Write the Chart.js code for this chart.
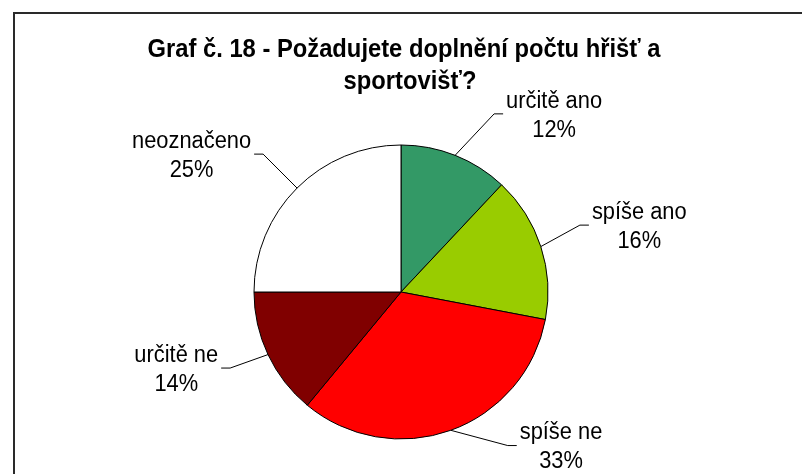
<!DOCTYPE html>
<html>
<head>
<meta charset="utf-8">
<script src="https://cdn.jsdelivr.net/npm/chart.js@4.4.1/dist/chart.umd.min.js"></script>
<style>
html,body{margin:0;padding:0;background:#fff;}
#wrap{position:relative;width:802px;height:474px;}
</style>
</head>
<body>
<div id="wrap"><canvas id="c" width="802" height="474"></canvas></div>
<script>
const titleLines = ["Graf č. 18 - Požadujete doplnění počtu hřišť a", "sportovišť?"];
const categories = ["určitě ano", "spíše ano", "spíše ne", "určitě ne", "neoznačeno"];
const values = [12, 16, 33, 14, 25];
const colors = ["#339966", "#99CC00", "#FF0000", "#800000", "#FFFFFF"];

// label leader styling (angle nudge in degrees, radial extension in px)
const leaderNudge = [6, -2.5, -15, 1.2, 0];
const leaderExt = [54, 44, 40, 40, 48];

const FONT = '"Liberation Sans", Arial, sans-serif';

function drawText(ctx, text, x, y, sx) {
  ctx.save();
  ctx.translate(x, y);
  ctx.scale(sx, 1);
  ctx.fillText(text, 0, 0);
  ctx.restore();
}

const decor = {
  id: 'decor',
  beforeDraw(chart) {
    const ctx = chart.ctx;
    ctx.save();
    ctx.fillStyle = '#fff';
    ctx.fillRect(0, 0, chart.width, chart.height);
    ctx.strokeStyle = '#2a2a2a';
    ctx.lineWidth = 2;
    ctx.beginPath();
    ctx.moveTo(14, 480);
    ctx.lineTo(14, 13);
    ctx.lineTo(810, 13);
    ctx.stroke();
    ctx.restore();
  },
  afterDraw(chart) {
    const ctx = chart.ctx;
    ctx.save();
    // title
    ctx.fillStyle = '#000';
    ctx.font = 'bold 25px ' + FONT;
    ctx.textAlign = 'center';
    ctx.textBaseline = 'alphabetic';
    drawText(ctx, titleLines[0], 404, 57, 0.95);
    drawText(ctx, titleLines[1], 410, 89, 0.95);

    // labels
    const meta = chart.getDatasetMeta(0);
    const LS = 0.95;
    ctx.font = '23px ' + FONT;
    meta.data.forEach((arc, i) => {
      const cx = arc.x, cy = arc.y, r = arc.outerRadius;
      const mid = (arc.startAngle + arc.endAngle) / 2;
      const a2 = mid + leaderNudge[i] * Math.PI / 180;
      const sx = cx + r * Math.cos(mid), sy = cy + r * Math.sin(mid);
      const ex = cx + (r + leaderExt[i]) * Math.cos(a2), ey = cy + (r + leaderExt[i]) * Math.sin(a2);
      const side = Math.cos(a2) >= 0 ? 1 : -1;
      const hx = ex + side * 9;
      ctx.strokeStyle = '#000';
      ctx.lineWidth = 1;
      ctx.beginPath();
      ctx.moveTo(sx, sy);
      ctx.lineTo(ex, ey);
      ctx.lineTo(hx, ey);
      ctx.stroke();

      const l1 = categories[i];
      const l2 = values[i] + '%';
      const w = LS * Math.max(ctx.measureText(l1).width, ctx.measureText(l2).width);
      const bx = side > 0 ? hx + 3 + w / 2 : hx - 3 - w / 2;
      ctx.fillStyle = '#000';
      ctx.textAlign = 'center';
      ctx.textBaseline = 'middle';
      drawText(ctx, l1, bx, ey + 2 - 14.5, LS);
      drawText(ctx, l2, bx, ey + 2 + 14.5, LS);
    });
    ctx.restore();
  }
};

new Chart(document.getElementById('c'), {
  type: 'pie',
  data: {
    labels: categories,
    datasets: [{
      data: values,
      backgroundColor: colors,
      borderColor: '#000',
      borderWidth: 1
    }]
  },
  options: {
    responsive: false,
    animation: false,
    radius: 147,
    layout: { padding: { left: 254, right: 254, top: 145, bottom: 35 } },
    plugins: {
      legend: { display: false },
      tooltip: { enabled: false },
      title: { display: false }
    }
  },
  plugins: [decor]
});
</script>
</body>
</html>
